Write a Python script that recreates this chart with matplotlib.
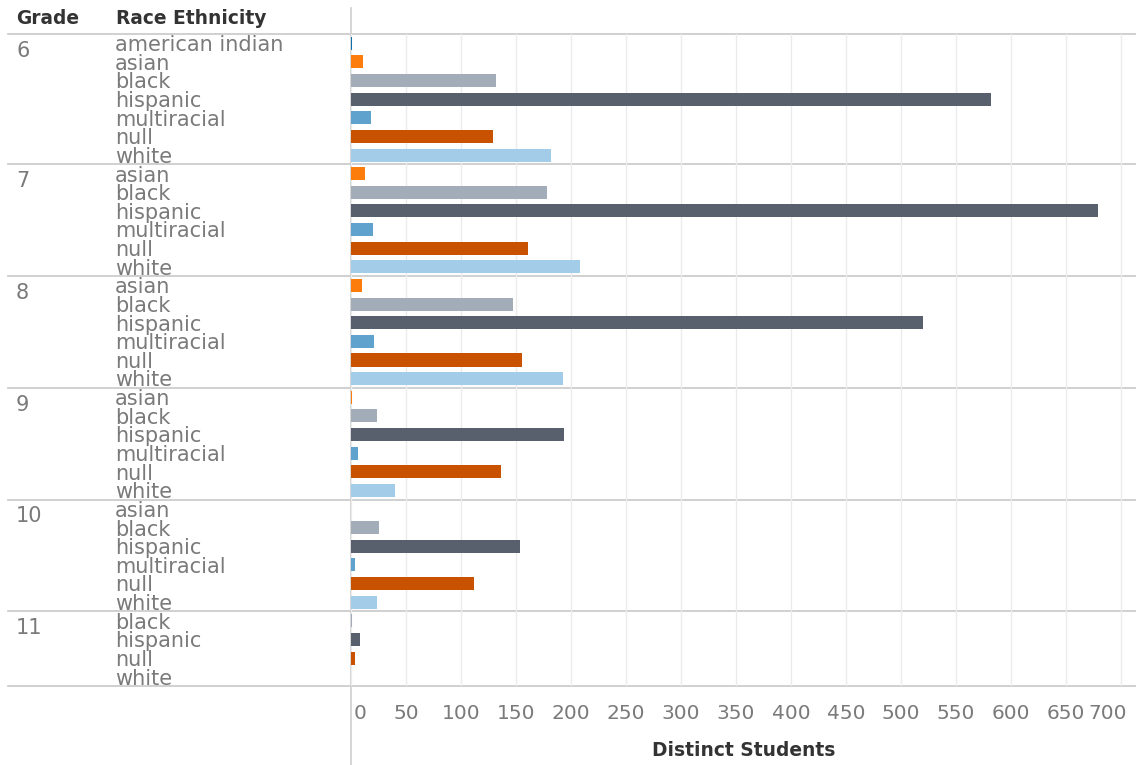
import matplotlib
matplotlib.use('Agg')
import matplotlib.pyplot as plt
from matplotlib.lines import Line2D
from matplotlib.transforms import blended_transform_factory, ScaledTranslation

# data
grades = ['6', '7', '8', '9', '10', '11']
races_6 = ['american indian', 'asian', 'black', 'hispanic', 'multiracial', 'null', 'white']
races_7 = ['asian', 'black', 'hispanic', 'multiracial', 'null', 'white']
races_8 = ['asian', 'black', 'hispanic', 'multiracial', 'null', 'white']
races_9 = ['asian', 'black', 'hispanic', 'multiracial', 'null', 'white']
races_10 = ['asian', 'black', 'hispanic', 'multiracial', 'null', 'white']
races_11 = ['black', 'hispanic', 'null', 'white']
vals_6 = [1, 11, 132, 582, 18, 129, 182]
vals_7 = [13, 178, 679, 20, 161, 208]
vals_8 = [10, 147, 520, 21, 155, 193]
vals_9 = [1, 24, 194, 6, 136, 40]
vals_10 = [0, 25, 154, 4, 112, 24]
vals_11 = [1, 8, 4, 0]
xticks = list(range(0, 701, 50))

race_colors = {'american indian': '#1170aa', 'asian': '#fc7d0b', 'black': '#a3acb9',
               'hispanic': '#57606c', 'multiracial': '#5fa2ce', 'null': '#c85200',
               'white': '#a3cce9'}

groups = [(grades[0], races_6, vals_6), (grades[1], races_7, vals_7),
          (grades[2], races_8, vals_8), (grades[3], races_9, vals_9),
          (grades[4], races_10, vals_10), (grades[5], races_11, vals_11)]

W, H = 1136, 765
fig = plt.figure(figsize=(W / 100, H / 100), dpi=100)
x0, x1, ytop, ybot = 351, 1136, 34, 686
ax = fig.add_axes([x0 / W, (H - ybot) / H, (x1 - x0) / W, (ybot - ytop) / H])
ax.patch.set_visible(False)

label_col = '#7a7a7a'
sep_col = '#c8c8c8'
trans = blended_transform_factory(fig.transFigure, ax.transData)

row = 0
seps = [0]
for g, races, vals in groups:
    ys = [row + i + 0.5 for i in range(len(races))]
    ax.barh(ys, vals, height=0.7, color=[race_colors[r] for r in races],
            linewidth=0, zorder=3)
    for y, r in zip(ys, races):
        fig.text(115 / W, y + 0.1, r, transform=trans, fontsize=15, color=label_col,
                 va='center', ha='left')
    fig.text(16 / W, row + 0.9, g, transform=trans, fontsize=15, color=label_col,
             va='center', ha='left')
    row += len(races)
    seps.append(row)

total = row
ax.set_ylim(total, 0)
ax.set_xlim(0, 713.6)

for s in seps:
    fig.add_artist(Line2D([8 / W, 1.0], [s, s], transform=trans, color=sep_col, lw=1.2,
                          zorder=-1))

# zero line running the full height, kept under the bars
fig.add_artist(Line2D([x0 / W, x0 / W], [0, 1 - 8 / H], transform=fig.transFigure,
                      color='#d0d0d0', lw=1.2, zorder=-1))

ax.set_xticks(xticks)
ax.set_xticklabels([str(t) for t in xticks])
ax.tick_params(axis='x', length=0, pad=13, labelsize=14.5, labelcolor=label_col)
ax.set_yticks([])
tl = ax.get_xticklabels()
tl[0].set_transform(tl[0].get_transform() + ScaledTranslation(0.095, 0, fig.dpi_scale_trans))
tl[-1].set_transform(tl[-1].get_transform() + ScaledTranslation(-0.13, 0, fig.dpi_scale_trans))
ax.grid(axis='x', color='#ebebeb', lw=1, zorder=0)
for sp in ax.spines.values():
    sp.set_visible(False)

fig.text(16 / W, 1 - 19 / H, 'Grade', fontsize=13.4, fontweight='bold', color='#333333',
         va='center', ha='left')
fig.text(116 / W, 1 - 19 / H, 'Race Ethnicity', fontsize=13.4, fontweight='bold',
         color='#333333', va='center', ha='left')
fig.text((x0 + x1) / 2 / W, 1 - 750 / H, 'Distinct Students', fontsize=13.4,
         fontweight='bold', color='#333333', va='center', ha='center')

fig.savefig('out.png', dpi=100)
